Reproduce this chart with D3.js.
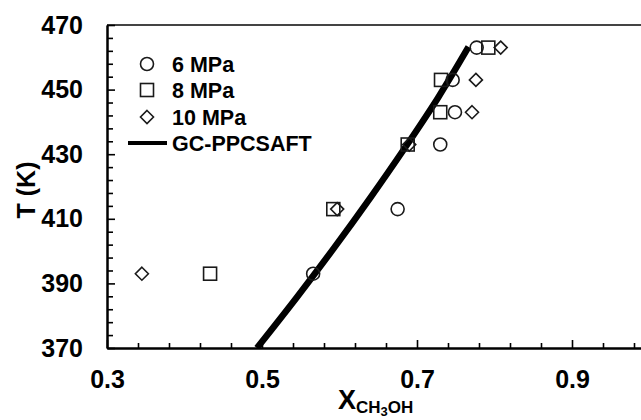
<!DOCTYPE html>
<html>
<head>
<meta charset="utf-8">
<script src="https://cdn.jsdelivr.net/npm/d3@7"></script>
<style>
  html, body { margin: 0; padding: 0; background: #fff; }
  svg { display: block; font-family: "Liberation Sans", Arial, sans-serif; }
</style>
</head>
<body>
<svg id="chart" width="641" height="420"></svg>
<script>
// ---- data ----
const p6MPa_x  = [0.566, 0.675, 0.730, 0.749, 0.746, 0.777];
const p6MPa_T  = [393, 413, 433, 443, 453, 463];
const p8MPa_x  = [0.433, 0.592, 0.688, 0.730, 0.731, 0.792];
const p8MPa_T  = [393, 413, 433, 443, 453, 463];
const p10MPa_x = [0.345, 0.597, 0.690, 0.771, 0.776, 0.808];
const p10MPa_T = [393, 413, 433, 443, 453, 463];
const model_x  = [0.4935, 0.5443, 0.5930, 0.6397, 0.6845, 0.7272, 0.7665];
const model_T  = [370, 385.5, 401.0, 416.5, 432.0, 447.5, 463.2];
const xTickLabels = ["0.3", "0.5", "0.7", "0.9"];
const yTickLabels = ["370", "390", "410", "430", "450", "470"];
const legendLabels = ["6 MPa", "8 MPa", "10 MPa", "GC-PPCSAFT"];

// ---- layout ----
const svg = d3.select("#chart");
const L = 107, T = 25, B = 348;
const x = d3.scaleLinear().domain([0.3, 1.1]).range([L, L + 0.8 * 775]);
const y = d3.scaleLinear().domain([370, 470]).range([B, T]);

const xMajor = xTickLabels.map(Number);
const xMinor = d3.range(0, 20).map(i => +(0.3 + 0.04 * i).toFixed(2)).filter(v => !xMajor.some(m => Math.abs(m - v) < 1e-6));
const yMajor = yTickLabels.map(Number);
const yMinor = d3.range(370, 471, 4).filter(v => !yMajor.includes(v));

// frame (top/right)
svg.append("line").attr("x1", L).attr("x2", x(1.1)).attr("y1", T).attr("y2", T)
  .attr("stroke", "#444").attr("stroke-width", 2);
svg.append("line").attr("x1", x(1.1)).attr("x2", x(1.1)).attr("y1", T).attr("y2", B)
  .attr("stroke", "#444").attr("stroke-width", 2);

// x axis
const gx = svg.append("g").attr("transform", `translate(0,${B})`);
gx.append("g").call(d3.axisBottom(x).tickValues(xMinor).tickSizeInner(-5).tickSizeOuter(0).tickFormat(""));
gx.append("g").call(d3.axisBottom(x).tickValues(xMajor).tickSizeInner(-8).tickSizeOuter(0).tickPadding(22)
  .tickFormat((d, i) => xTickLabels[i]));
// y axis
const gy = svg.append("g").attr("transform", `translate(${L},0)`);
gy.append("g").call(d3.axisLeft(y).tickValues(yMinor).tickSizeInner(-6).tickSizeOuter(0).tickFormat(""));
gy.append("g").call(d3.axisLeft(y).tickValues(yMajor).tickSizeInner(-8).tickSizeOuter(0).tickPadding(24)
  .tickFormat((d, i) => yTickLabels[i]));

svg.selectAll(".domain").attr("stroke", "#000").attr("stroke-width", 2);
svg.selectAll(".tick line").attr("stroke", "#000").attr("stroke-width", 1.6);
svg.selectAll(".tick text").attr("font-size", 25).attr("font-weight", "bold")
  .attr("fill", "#000").attr("font-family", "Liberation Sans, Arial, sans-serif");

// axis titles
svg.append("text").attr("transform", "translate(35,190) rotate(-90)")
  .attr("text-anchor", "middle").attr("font-size", 25).attr("font-weight", "bold").text("T (K)");
const xt = svg.append("text").attr("x", 338).attr("y", 409).attr("font-weight", "bold");
xt.append("tspan").attr("font-size", 27).text("X");
xt.append("tspan").attr("font-size", 17).attr("dy", 4).text("CH");
xt.append("tspan").attr("font-size", 13).attr("dy", 3).text("3");
xt.append("tspan").attr("font-size", 17).attr("dy", -3).text("OH");

// clip
svg.append("clipPath").attr("id", "clip").append("rect")
  .attr("x", L).attr("y", T).attr("width", x(1.1) - L).attr("height", B - T);

// model line
const line = d3.line().x((d, i) => x(model_x[i])).y((d, i) => y(model_T[i])).curve(d3.curveCatmullRom.alpha(0.5));
svg.append("path").datum(model_x).attr("d", line).attr("clip-path", "url(#clip)")
  .attr("fill", "none").attr("stroke", "#000").attr("stroke-width", 6.5);

// markers
const mk = { stroke: "#1a1a1a", width: 1.6 };
function circles(xs, ts) {
  svg.append("g").selectAll("circle").data(xs).join("circle")
    .attr("cx", d => x(d)).attr("cy", (d, i) => y(ts[i])).attr("r", 6.5)
    .attr("fill", "none").attr("stroke", mk.stroke).attr("stroke-width", mk.width);
}
function squares(xs, ts) {
  svg.append("g").selectAll("rect").data(xs).join("rect")
    .attr("x", d => x(d) - 6.5).attr("y", (d, i) => y(ts[i]) - 6.5).attr("width", 13).attr("height", 13)
    .attr("fill", "none").attr("stroke", mk.stroke).attr("stroke-width", mk.width);
}
function diamonds(xs, ts) {
  const s = 6.5;
  svg.append("g").selectAll("path").data(xs).join("path")
    .attr("d", (d, i) => { const cx = x(d), cy = y(ts[i]); return `M${cx},${cy - s}L${cx + s},${cy}L${cx},${cy + s}L${cx - s},${cy}Z`; })
    .attr("fill", "none").attr("stroke", mk.stroke).attr("stroke-width", mk.width);
}
circles(p6MPa_x, p6MPa_T);
squares(p8MPa_x, p8MPa_T);
diamonds(p10MPa_x, p10MPa_T);

// legend
const lg = svg.append("g");
const lx = 147, rows = [64, 90, 117, 143];
lg.append("circle").attr("cx", lx).attr("cy", rows[0]).attr("r", 6.5)
  .attr("fill", "none").attr("stroke", mk.stroke).attr("stroke-width", mk.width);
lg.append("rect").attr("x", lx - 6.5).attr("y", rows[1] - 6.5).attr("width", 13).attr("height", 13)
  .attr("fill", "none").attr("stroke", mk.stroke).attr("stroke-width", mk.width);
lg.append("path").attr("d", `M${lx},${rows[2] - 6.5}L${lx + 6.5},${rows[2]}L${lx},${rows[2] + 6.5}L${lx - 6.5},${rows[2]}Z`)
  .attr("fill", "none").attr("stroke", mk.stroke).attr("stroke-width", mk.width);
lg.append("line").attr("x1", 128).attr("x2", 167).attr("y1", rows[3]).attr("y2", rows[3])
  .attr("stroke", "#000").attr("stroke-width", 4);
lg.selectAll("text").data(legendLabels).join("text")
  .attr("x", 172).attr("y", (d, i) => rows[i]).attr("dy", "0.35em")
  .attr("font-size", 21.5).attr("font-weight", "bold").text(d => d);
</script>
</body>
</html>
